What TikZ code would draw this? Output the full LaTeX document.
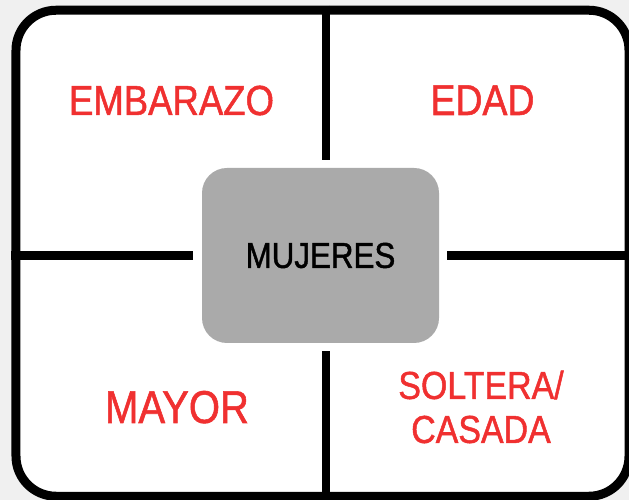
\documentclass[tikz,border=0pt]{standalone}
\usepackage{fontspec}
\setmainfont{Liberation Sans}[FakeStretch=0.87, FakeBold=1.2]
\definecolor{rojo}{RGB}{240,48,48}
\definecolor{gris}{RGB}{170,170,170}
\tikzset{
  marco/.style={draw, line width=9bp, fill=white, rounded corners=40bp, inner sep=0pt},
  caja/.style={fill=gris, rounded corners=25bp, minimum width=237bp, minimum height=175bp, inner sep=0pt, font=\fontsize{36bp}{40bp}\selectfont},
  divisor/.style={line width=8.5bp},
  rotulo/.style={text=rojo, inner sep=0pt, anchor=base},
}

\begin{document}
\begin{tikzpicture}[x=1bp,y=1bp]
  \useasboundingbox (0,0) rectangle (629,500);
  \clip (0,0) rectangle (629,500);
  \fill[black!6] (0,0) rectangle (629,500);

  % Nodes
  \node[marco, minimum width=613bp, minimum height=486bp] (marco) at (322.5,246.75) {}; %
  \node[caja] (mujeres) at (320.5,244.5) {MUJERES}; %
  \coordinate (eje) at (326,0);

  \node[rotulo, font=\fontsize{42bp}{48bp}\selectfont] (embarazo) at (171.5,385) {EMBARAZO}; %
  \node[rotulo, font=\fontsize{43bp}{48bp}\selectfont] (edad) at (482.5,385) {EDAD}; %
  \node[rotulo, font=\fontsize{46bp}{52bp}\selectfont] (mayor) at (177,77) {MAYOR}; %
  \node[text=rojo, inner sep=0pt, align=center, font=\fontsize{39bp}{44bp}\selectfont] (estado) at (481,93) {SOLTERA/\\CASADA}; %

  % Dividers
  \draw[divisor, shorten >=8bp] (marco.north -| eje) -- (mujeres.north -| eje);
  \draw[divisor, shorten >=8bp] (marco.south -| eje) -- (mujeres.south -| eje);
  \draw[divisor, shorten >=9bp] (marco.west |- mujeres.center) -- (mujeres.west);
  \draw[divisor, shorten >=8bp] (marco.east |- mujeres.center) -- (mujeres.east);

\end{tikzpicture}
\end{document}
